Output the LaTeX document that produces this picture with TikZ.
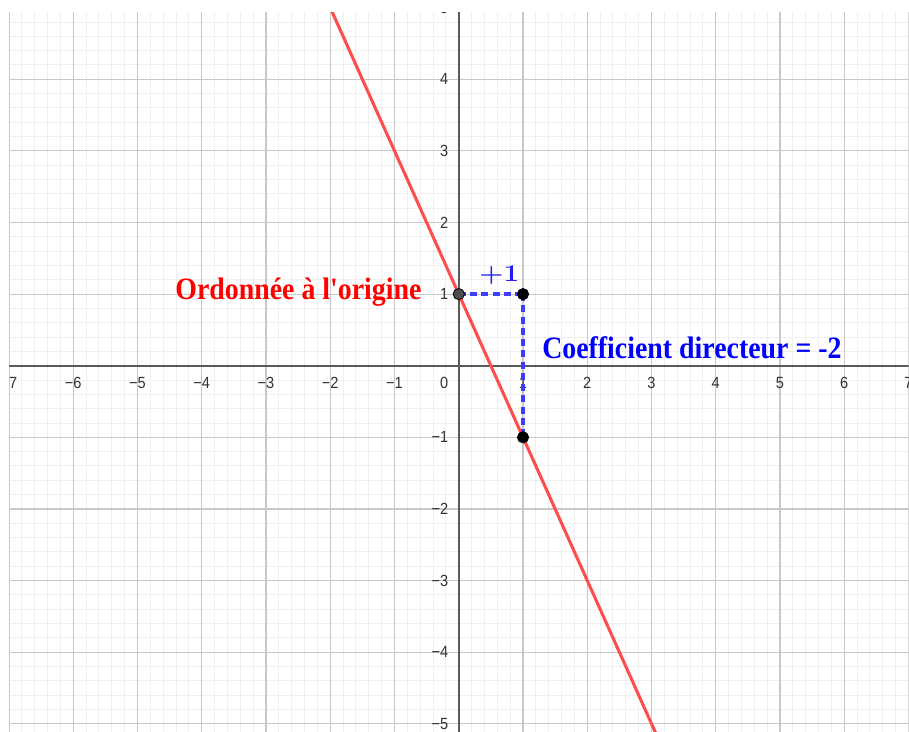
\documentclass[tikz,border=0pt]{standalone}
\usepackage{fontspec}
\usepackage{graphicx}
\newfontfamily\arialf{Liberation Sans}
\newfontfamily\timesf{Liberation Serif}
\definecolor{minorc}{HTML}{EFEFEF}
\definecolor{majorc}{HTML}{C8C8C8}
\definecolor{axisc}{HTML}{5A5A5A}
\definecolor{labc}{HTML}{333333}
\definecolor{linec}{HTML}{FF4D4D}
\definecolor{dashc}{HTML}{3D3DFF}
\definecolor{ptdark}{HTML}{4D4D4D}
\definecolor{plusc}{HTML}{2020F0}
\newcommand\sqz[1]{\scalebox{0.9}[1]{#1}}
\begin{document}
\begin{tikzpicture}[x=1.9263cm,y=2.1468cm,
 minorline/.style={draw=minorc,line width=0.85pt},
 majorline/.style={draw=majorc,line width=1pt},
 axisline/.style={draw=axisc,line width=1.7pt},
 lab/.style={inner sep=0pt,text=labc,font=\arialf\fontsize{13.8}{14}\selectfont},
 redline/.style={draw=linec,line width=2.6pt},
 bluedash/.style={draw=dashc,line width=2.8pt,dash pattern=on 6pt off 3.6pt},
 ptnode/.style={circle,draw=black,line width=0.7pt,inner sep=0pt,minimum size=9.6pt},
 bigtext/.style={anchor=base west,inner sep=0pt,font=\timesf\bfseries\fontsize{26.5}{30}\selectfont},
]
\useasboundingbox (-7.1405,-5.1076) rectangle (7.0078,5.1076);
\fill[white] (-7.1405,-5.1076) rectangle (7.0078,5.1076);
\begin{scope}
\clip (-7,-5.1076) rectangle (7,4.930);
\foreach \i in {-35,...,35} \draw[minorline] (\i/5,-5.2) -- (\i/5,5.1);
\foreach \j in {-26,...,25} \draw[minorline] (-7.2,\j/5) -- (7.2,\j/5);
\foreach \i in {-7,...,7} \draw[majorline] (\i,-5.2) -- (\i,5.1);
\foreach \j in {-5,...,5} \draw[majorline] (-7.2,\j) -- (7.2,\j);
\coordinate (xl) at (-7.2,0); \coordinate (xr) at (7.2,0);
\coordinate (yb) at (0,-5.2); \coordinate (yt) at (0,5.1);
\draw[axisline] (xl) -- (xr);
\draw[axisline] (yb) -- (yt);
\foreach \k in {1,...,7} {
  \node[lab] (xp\k) at (\k,-0.2376) {\sqz{\k}};
  \node[lab] (xn\k) at (-\k,-0.2376) {\sqz{−\k}};
}
\foreach \k in {1,...,5} {
  \node[lab,anchor=east] (yp\k) at (-0.159,\k) {\sqz{\k}};
  \node[lab,anchor=east] (yn\k) at (-0.159,-\k) {\sqz{−\k}};
}
\node[lab,anchor=east] (zero) at (-0.159,-0.2376) {\sqz{0}};
\coordinate (ltop) at (-2.1,5.2); \coordinate (lbot) at (3.1,-5.2);
\draw[redline] (ltop) -- (lbot);
\end{scope}
\coordinate (A) at (0,1); \coordinate (B) at (1,1); \coordinate (C) at (1,-1);
\draw[bluedash] (A) -- (B);
\draw[bluedash] (B) -- (C);
\node[ptnode,fill=ptdark] (pA) at (A) {};
\node[ptnode,fill=black] (pB) at (B) {};
\node[ptnode,fill=black] (pC) at (C) {};
\node[bigtext,text=red] (ord) at (-4.415,0.925) {\scalebox{0.897}[1]{Ordonnée à l\textquotesingle origine}};
\node[bigtext,text=blue] (coef) at (1.296,0.1006) {\scalebox{0.897}[1]{Coefficient directeur = -2}};
\node[anchor=base west,inner sep=0pt,text=plusc] (plus) at (0.318,1.171) {\scalebox{1.15}[1]{\fontsize{20.5}{22}\selectfont\bfseries +1}};
\end{tikzpicture}
\end{document}
